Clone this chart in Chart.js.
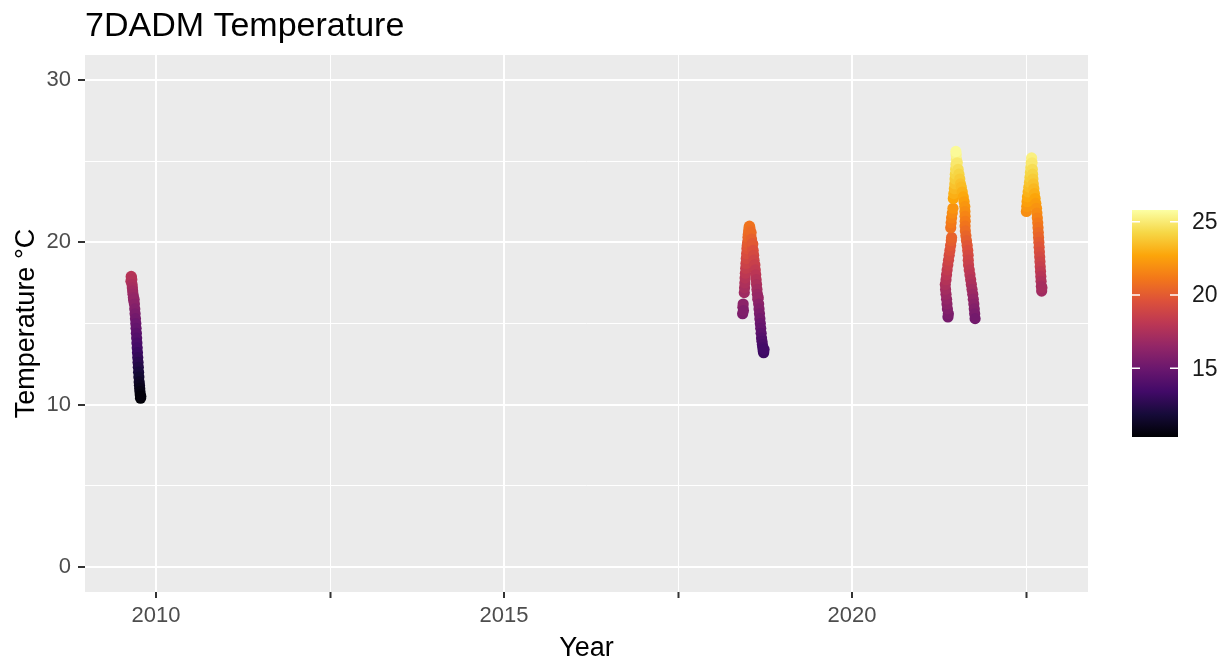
<!DOCTYPE html>
<html>
<head>
<meta charset="utf-8">
<script src="https://cdn.jsdelivr.net/npm/chart.js@4.4.1/dist/chart.umd.min.js"></script>
<style>
  html, body { margin: 0; padding: 0; background: #fff; }
</style>
</head>
<body>
<canvas id="chart" width="1227" height="666"></canvas>
<script>
// 7DADM values, one pair of arrays per summer (decimal year, degC)
const dates2009 = [2009.640, 2009.644, 2009.648, 2009.652, 2009.656, 2009.660, 2009.665, 2009.670, 2009.675, 2009.680,
  2009.685, 2009.690, 2009.695, 2009.700, 2009.705, 2009.710, 2009.714, 2009.718, 2009.722, 2009.726,
  2009.730, 2009.734, 2009.738, 2009.742, 2009.746, 2009.750, 2009.754, 2009.758, 2009.762, 2009.766,
  2009.770, 2009.774, 2009.778, 2009.782];
const temps2009 = [17.6, 17.9, 17.8, 17.7, 17.4, 17.2, 17.0, 16.8, 16.6, 16.4,
  16.5, 16.2, 15.9, 15.6, 15.3, 15.0, 14.7, 14.4, 14.1, 13.8,
  13.5, 13.2, 12.9, 12.6, 12.3, 12.0, 11.7, 11.4, 11.2, 11.0,
  10.8, 10.6, 10.4, 10.5];

const dates2018 = [2018.428, 2018.432, 2018.436, 2018.440, 2018.452, 2018.456, 2018.460, 2018.464, 2018.468, 2018.472,
  2018.476, 2018.480, 2018.485, 2018.490, 2018.495, 2018.500, 2018.505, 2018.510, 2018.515, 2018.520,
  2018.526, 2018.532, 2018.538, 2018.544, 2018.550, 2018.556, 2018.562, 2018.568, 2018.574, 2018.580,
  2018.586, 2018.592, 2018.598, 2018.604, 2018.610, 2018.616, 2018.622, 2018.628, 2018.634, 2018.640,
  2018.646, 2018.652, 2018.658, 2018.664, 2018.670, 2018.676, 2018.682, 2018.688, 2018.694, 2018.700,
  2018.706, 2018.712, 2018.718, 2018.724, 2018.730, 2018.736];
const temps2018 = [15.6, 16.0, 16.2, 15.8, 16.9, 17.2, 17.5, 17.8, 18.1, 18.4,
  18.7, 19.0, 19.3, 19.6, 19.8, 20.0, 20.3, 20.5, 20.7, 20.9,
  21.0, 20.9, 20.7, 20.4, 20.6, 20.2, 19.9, 19.6, 19.9, 19.5,
  19.2, 18.9, 18.6, 18.6, 18.3, 18.0, 17.7, 17.4, 17.1, 16.8,
  16.5, 16.6, 16.2, 15.9, 15.6, 15.3, 15.0, 14.7, 14.4, 14.1,
  13.9, 13.7, 13.5, 13.3, 13.2, 13.4];

const dates2021 = [2021.378, 2021.384, 2021.370, 2021.364, 2021.358, 2021.350, 2021.344, 2021.340, 2021.350, 2021.358,
  2021.366, 2021.376, 2021.386, 2021.396, 2021.406, 2021.416, 2021.426, 2021.430,
  2021.418, 2021.424, 2021.430, 2021.440, 2021.450,
  2021.455, 2021.462, 2021.470, 2021.476, 2021.480, 2021.484, 2021.488, 2021.494, 2021.500, 2021.496, 2021.492,
  2021.512, 2021.524, 2021.536, 2021.548, 2021.558, 2021.570, 2021.584, 2021.598, 2021.610, 2021.620,
  2021.622, 2021.624, 2021.626, 2021.624, 2021.628, 2021.636, 2021.644, 2021.654, 2021.662, 2021.668,
  2021.670, 2021.674, 2021.684, 2021.694, 2021.704, 2021.714, 2021.724, 2021.734, 2021.742, 2021.750,
  2021.756, 2021.762, 2021.768];
const temps2021 = [15.4, 15.6, 15.9, 16.2, 16.5, 16.8, 17.1, 17.4, 17.7, 18.0,
  18.3, 18.6, 18.9, 19.2, 19.5, 19.8, 20.1, 20.3,
  20.9, 21.2, 21.5, 21.8, 22.1,
  22.7, 23.0, 23.3, 23.6, 23.9, 24.2, 24.5, 24.8, 25.1, 25.4, 25.6,
  24.9, 24.5, 24.2, 23.9, 23.6, 23.4, 23.1, 22.8, 22.5, 22.2,
  21.9, 21.6, 21.3, 21.0, 20.7, 20.4, 20.1, 19.8, 19.5, 19.2,
  18.9, 18.6, 18.3, 18.0, 17.7, 17.4, 17.1, 16.8, 16.5, 16.2,
  15.9, 15.6, 15.3];

const dates2022 = [2022.505, 2022.510, 2022.514, 2022.520, 2022.530, 2022.540, 2022.550, 2022.556, 2022.562, 2022.568,
  2022.574, 2022.580, 2022.586, 2022.590, 2022.594, 2022.598, 2022.604, 2022.612, 2022.620, 2022.630,
  2022.640, 2022.650, 2022.656, 2022.662, 2022.668, 2022.672, 2022.676, 2022.680, 2022.684, 2022.688,
  2022.692, 2022.696, 2022.700, 2022.704, 2022.708, 2022.712, 2022.716, 2022.720, 2022.724, 2022.728];
const temps2022 = [21.9, 22.2, 22.5, 22.8, 23.1, 23.4, 23.7, 24.0, 24.3, 24.6,
  24.9, 25.2, 24.9, 24.5, 24.2, 23.9, 23.6, 23.3, 23.0, 22.7,
  22.4, 22.1, 21.8, 21.5, 21.2, 20.9, 20.6, 20.3, 20.0, 19.7,
  19.4, 19.1, 18.8, 18.5, 18.2, 17.9, 17.6, 17.3, 17.0, 17.2];

const xTicks = [2010, 2012.5, 2015, 2017.5, 2020, 2022.5];
const xLabels = ['2010', '', '2015', '', '2020', ''];
const yTicks = [0, 5, 10, 15, 20, 25, 30];
const yLabels = ['0', '', '10', '', '20', '', '30'];
const colorTicks = [15, 20, 25];
const colorMin = 10.3;
const colorMax = 25.8;

// inferno palette
const inferno = ['#000004', '#160b39', '#420a68', '#6a176e', '#932667', '#bc3754',
  '#dd513a', '#f37819', '#fca50a', '#f6d746', '#fcffa4'];

const hexRgb = h => [1, 3, 5].map(i => parseInt(h.slice(i, i + 2), 16));
const infernoColor = v => {
  let t = (v - colorMin) / (colorMax - colorMin);
  t = Math.max(0, Math.min(1, t));
  const pos = t * (inferno.length - 1);
  const i = Math.min(Math.floor(pos), inferno.length - 2);
  const f = pos - i;
  const a = hexRgb(inferno[i]), b = hexRgb(inferno[i + 1]);
  const c = a.map((x, k) => Math.round(x + (b[k] - x) * f));
  return `rgb(${c[0]},${c[1]},${c[2]})`;
};

const seasons = [[dates2009, temps2009], [dates2018, temps2018], [dates2021, temps2021], [dates2022, temps2022]];
const points = [];
for (const [ds, ts] of seasons) {
  ds.forEach((d, i) => points.push({ x: d, y: ts[i] }));
}

const FONT = "'Liberation Sans', Arial, sans-serif";
Chart.defaults.font.family = FONT;

const panelBg = {
  id: 'panelBg',
  beforeDraw(chart) {
    const { ctx, chartArea: a } = chart;
    ctx.save();
    ctx.fillStyle = '#EBEBEB';
    ctx.fillRect(a.left, a.top, a.right - a.left, a.bottom - a.top);
    ctx.restore();
  }
};

const titleAndBar = {
  id: 'titleAndBar',
  afterDraw(chart) {
    const { ctx, chartArea: a } = chart;
    ctx.save();
    ctx.fillStyle = '#000';
    ctx.font = `34px ${FONT}`;
    ctx.textBaseline = 'alphabetic';
    ctx.textAlign = 'left';
    ctx.fillText('7DADM Temperature', a.left, 36);

    // colour bar
    const bx = 1132, bw = 46, top = 210, h = 227;
    const grad = ctx.createLinearGradient(0, top + h, 0, top);
    inferno.forEach((c, i) => grad.addColorStop(i / (inferno.length - 1), c));
    ctx.fillStyle = grad;
    ctx.fillRect(bx, top, bw, h);
    ctx.strokeStyle = '#fff';
    ctx.lineWidth = 1.5;
    ctx.font = `23px ${FONT}`;
    ctx.textBaseline = 'middle';
    ctx.fillStyle = '#1a1a1a';
    colorTicks.forEach(v => {
      const y = top + h - (v - colorMin) / (colorMax - colorMin) * h;
      ctx.beginPath();
      ctx.moveTo(bx, y); ctx.lineTo(bx + 8, y);
      ctx.moveTo(bx + bw - 8, y); ctx.lineTo(bx + bw, y);
      ctx.stroke();
      ctx.fillText(String(v), 1192, y + 1);
    });
    ctx.restore();
  }
};

new Chart(document.getElementById('chart'), {
  type: 'scatter',
  data: {
    datasets: [{
      data: points,
      pointBackgroundColor: points.map(p => infernoColor(p.y)),
      pointBorderWidth: 0,
      pointRadius: 5.6,
      pointHoverRadius: 5.6
    }]
  },
  options: {
    responsive: false,
    animation: false,
    layout: { padding: { left: 0, top: 55, right: 139, bottom: 0 } },
    plugins: { legend: { display: false }, tooltip: { enabled: false } },
    scales: {
      x: {
        type: 'linear',
        min: 2008.98,
        max: 2023.39,
        afterBuildTicks: s => { s.ticks = xTicks.map(v => ({ value: v })); },
        afterFit: s => { s.height = 74; },
        border: { display: false },
        grid: {
          color: '#fff',
          lineWidth: c => (c.tick && c.tick.value % 5 === 0 ? 2 : 1),
          tickColor: '#333',
          tickWidth: 2,
          tickLength: 6
        },
        ticks: {
          autoSkip: false,
          maxRotation: 0,
          padding: 5,
          color: '#4D4D4D',
          font: { size: 22 },
          callback: (v, i) => xLabels[i]
        },
        title: {
          display: true,
          text: 'Year',
          color: '#000',
          font: { size: 27 },
          padding: { top: 0, bottom: 1 }
        }
      },
      y: {
        min: -1.54,
        max: 31.54,
        afterBuildTicks: s => { s.ticks = yTicks.map(v => ({ value: v })); },
        afterFit: s => { s.width = 85; },
        border: { display: false },
        grid: {
          color: '#fff',
          lineWidth: c => (c.tick && c.tick.value % 10 === 0 ? 2 : 1),
          tickColor: c => (c.tick && c.tick.value % 10 === 0 ? '#333' : 'rgba(0,0,0,0)'),
          tickWidth: 2,
          tickLength: 7
        },
        ticks: {
          padding: 7,
          color: '#4D4D4D',
          font: { size: 22 },
          callback: (v, i) => yLabels[i]
        },
        title: {
          display: true,
          text: 'Temperature °C',
          color: '#000',
          font: { size: 27 },
          padding: { top: 10, bottom: 0 }
        }
      }
    }
  },
  plugins: [panelBg, titleAndBar]
});
</script>
</body>
</html>
